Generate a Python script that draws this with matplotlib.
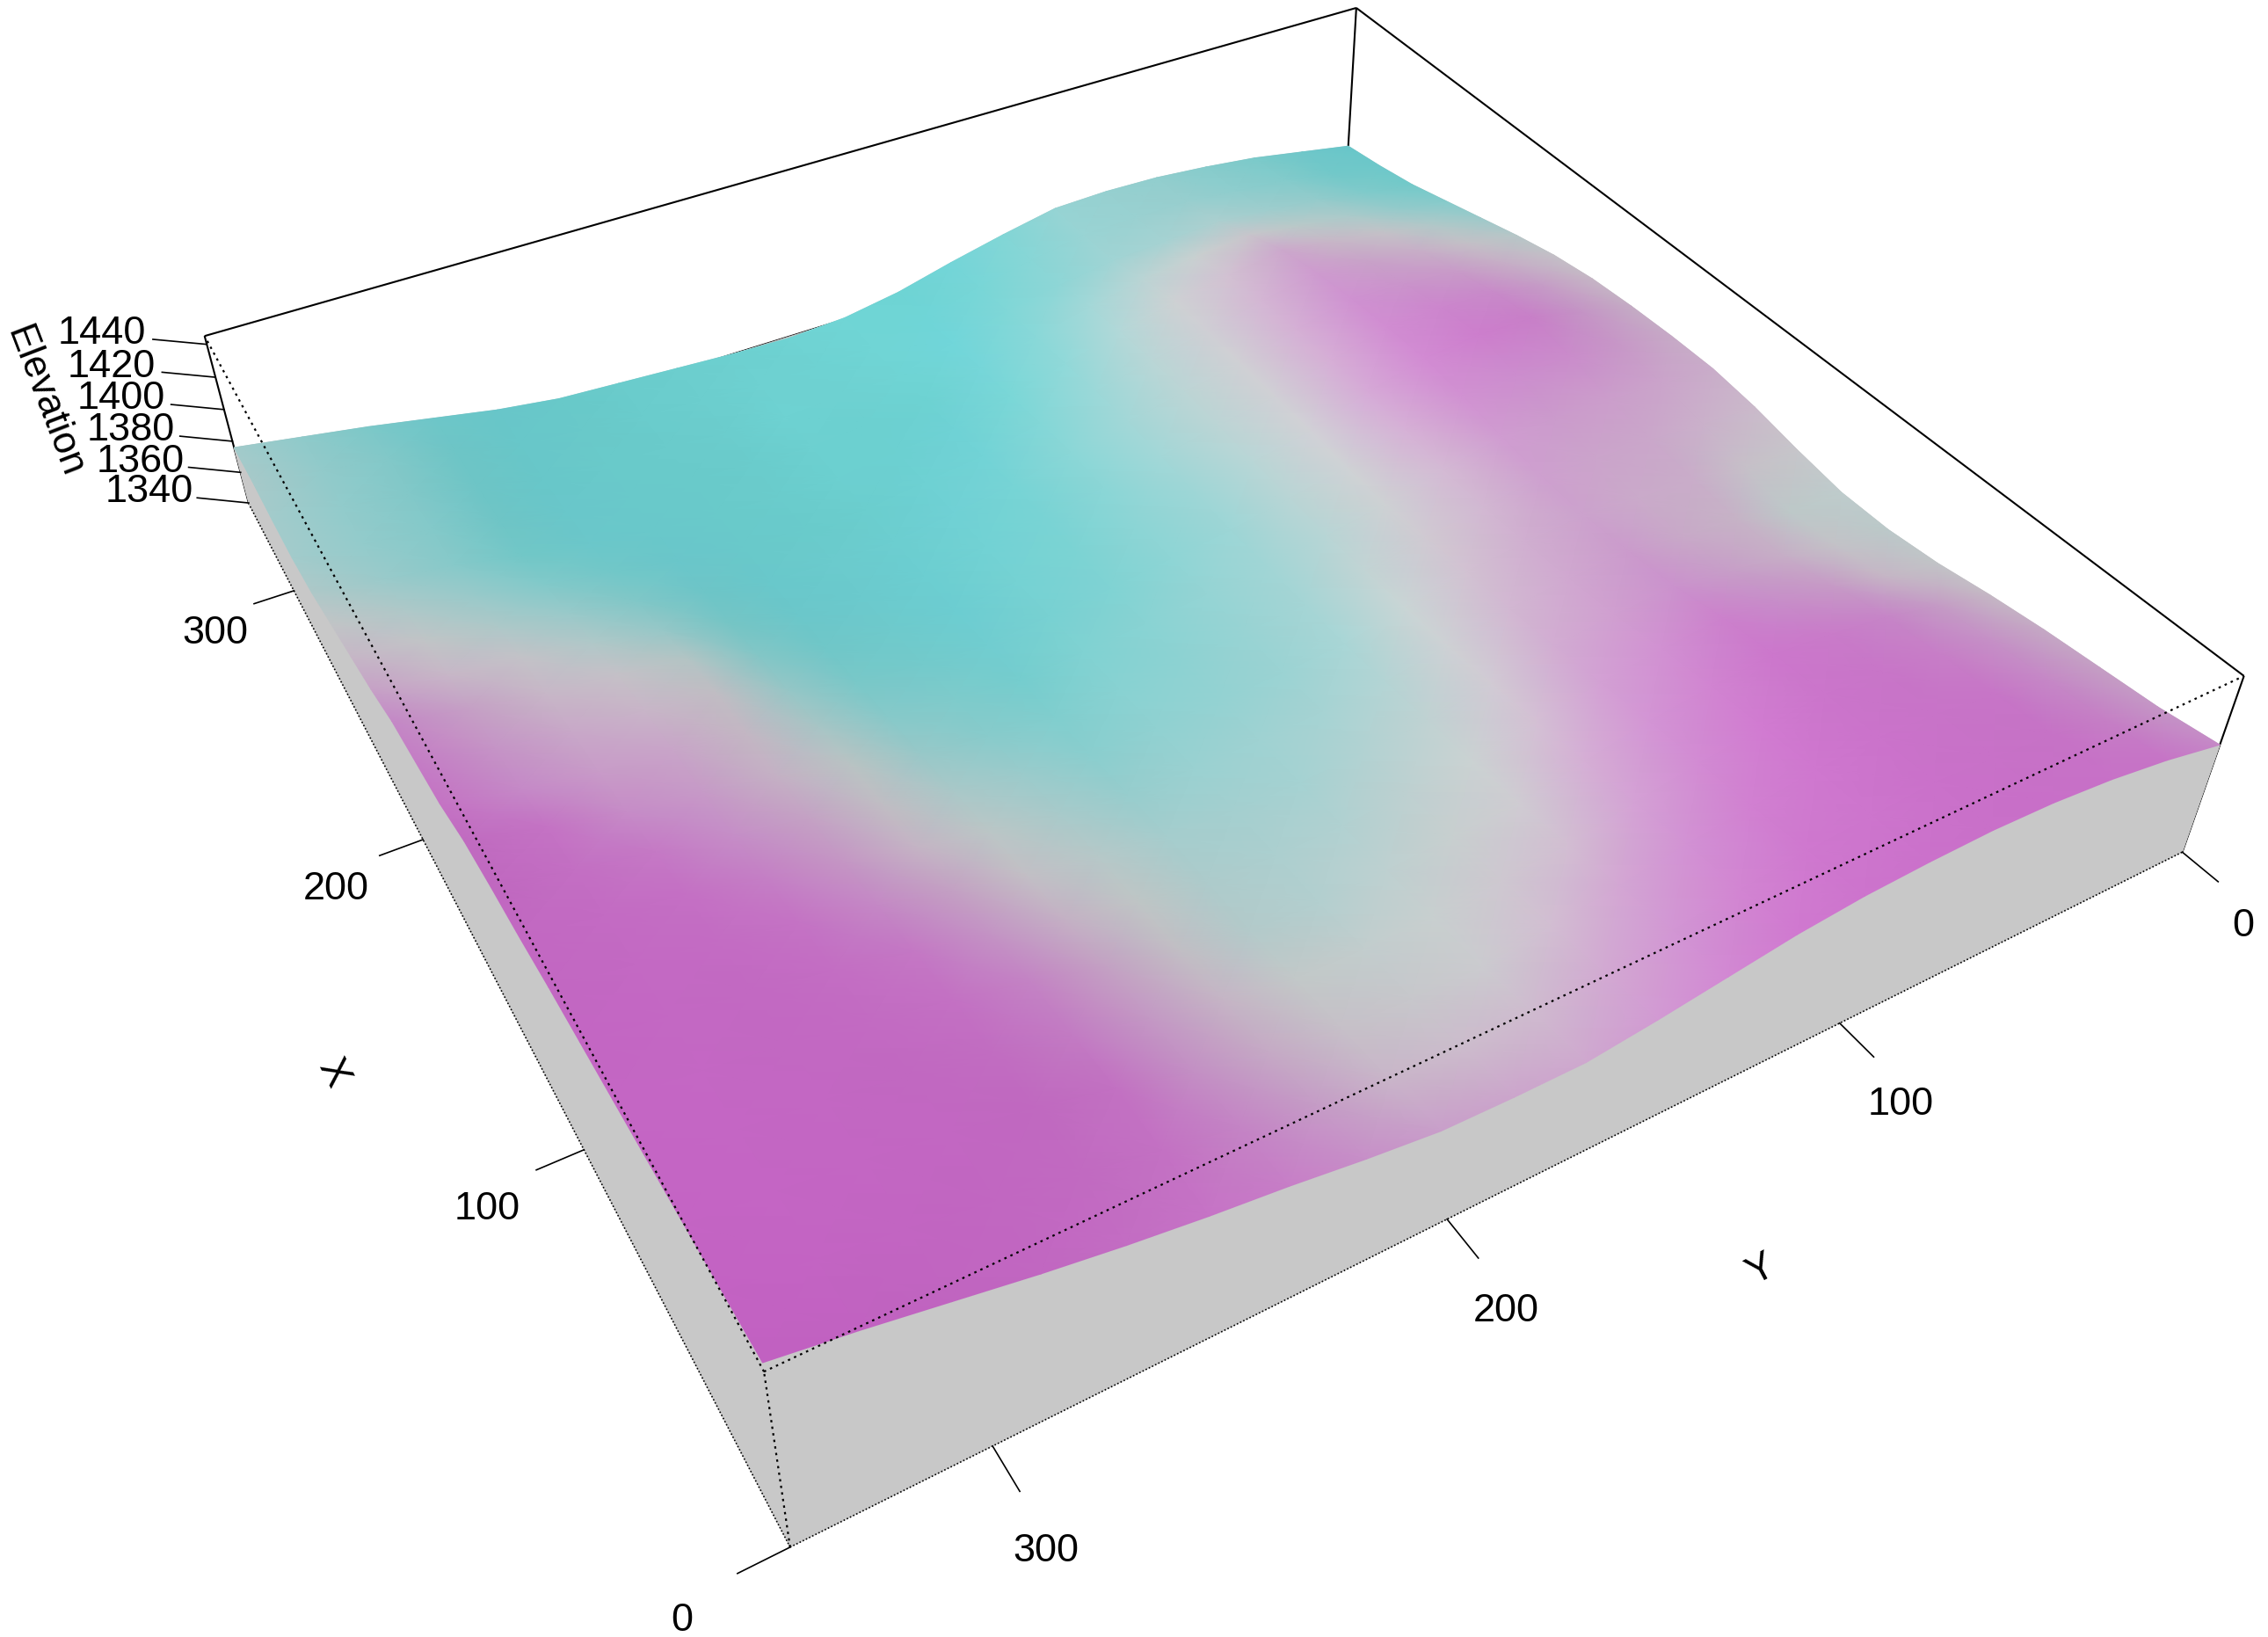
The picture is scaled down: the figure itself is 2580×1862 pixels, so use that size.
import numpy as np
import matplotlib
matplotlib.use('Agg')
import matplotlib.pyplot as plt
from matplotlib.colors import LinearSegmentedColormap, Normalize

plt.rcParams['font.family'] = 'Liberation Sans'

# survey grid, metres
x_grid = [0, 17, 34, 51, 68, 85, 102, 119, 136, 153, 170, 187, 204, 221, 238, 255, 272, 289, 306, 323, 340]
y_grid = [0, 17, 34, 51, 68, 85, 102, 119, 136, 153, 170, 187, 204, 221, 238, 255, 272, 289, 306, 323, 340]

# elevation, one row per y_grid value
elevation = [
    [1405, 1400, 1397, 1394, 1390, 1385, 1382, 1382, 1386, 1391, 1394, 1394, 1393, 1391, 1387, 1381, 1374, 1367, 1360, 1355, 1351],
    [1412, 1408, 1405, 1402, 1398, 1391, 1386, 1383, 1388, 1393, 1397, 1400, 1401, 1398, 1393, 1387, 1380, 1372, 1365, 1360, 1357],
    [1417, 1415, 1412, 1409, 1406, 1399, 1393, 1392, 1394, 1396, 1399, 1405, 1409, 1405, 1399, 1393, 1386, 1378, 1371, 1366, 1363],
    [1420, 1418, 1416, 1413, 1410, 1404, 1398, 1395, 1395, 1397, 1400, 1405, 1410, 1407, 1402, 1397, 1391, 1382, 1374, 1369, 1367],
    [1421, 1420, 1418, 1416, 1413, 1409, 1403, 1400, 1398, 1399, 1401, 1405, 1407, 1406, 1404, 1401, 1396, 1387, 1377, 1372, 1370],
    [1420, 1417, 1415, 1412, 1409, 1405, 1400, 1397, 1395, 1393, 1393, 1396, 1398, 1397, 1396, 1394, 1391, 1384, 1375, 1372, 1371],
    [1418, 1414, 1410, 1407, 1404, 1400, 1396, 1393, 1391, 1388, 1385, 1385, 1386, 1386, 1386, 1386, 1385, 1380, 1373, 1371, 1370],
    [1414, 1409, 1405, 1400, 1396, 1392, 1388, 1385, 1383, 1381, 1379, 1379, 1379, 1380, 1380, 1379, 1377, 1373, 1368, 1365, 1363],
    [1408, 1403, 1398, 1392, 1387, 1384, 1381, 1378, 1375, 1374, 1373, 1372, 1372, 1373, 1373, 1371, 1368, 1365, 1362, 1358, 1355],
    [1402, 1397, 1392, 1388, 1384, 1381, 1378, 1375, 1372, 1371, 1370, 1368, 1367, 1366, 1366, 1363, 1359, 1356, 1352, 1348, 1346],
    [1397, 1392, 1386, 1384, 1381, 1378, 1375, 1373, 1370, 1368, 1366, 1363, 1361, 1360, 1358, 1354, 1350, 1346, 1342, 1340, 1340],
    [1397, 1391, 1386, 1383, 1379, 1377, 1375, 1372, 1369, 1366, 1363, 1360, 1357, 1355, 1353, 1350, 1347, 1344, 1341, 1339, 1338],
    [1398, 1392, 1388, 1384, 1380, 1378, 1376, 1372, 1368, 1364, 1360, 1356, 1352, 1350, 1348, 1345, 1343, 1341, 1339, 1339, 1339],
    [1403, 1398, 1394, 1391, 1387, 1384, 1381, 1377, 1373, 1368, 1364, 1359, 1355, 1351, 1349, 1346, 1344, 1343, 1341, 1341, 1341],
    [1409, 1406, 1402, 1399, 1396, 1392, 1387, 1383, 1378, 1373, 1368, 1363, 1358, 1354, 1350, 1348, 1346, 1345, 1344, 1343, 1343],
    [1414, 1414, 1413, 1409, 1406, 1401, 1396, 1391, 1387, 1383, 1378, 1373, 1368, 1362, 1357, 1353, 1349, 1347, 1346, 1346, 1345],
    [1420, 1422, 1423, 1419, 1415, 1410, 1405, 1400, 1396, 1392, 1390, 1387, 1381, 1373, 1366, 1360, 1354, 1351, 1349, 1349, 1350],
    [1427, 1429, 1430, 1426, 1422, 1418, 1413, 1408, 1403, 1399, 1396, 1392, 1387, 1380, 1373, 1366, 1360, 1358, 1357, 1357, 1357],
    [1435, 1436, 1436, 1433, 1429, 1425, 1421, 1416, 1410, 1404, 1399, 1395, 1391, 1386, 1379, 1373, 1368, 1367, 1366, 1366, 1364],
    [1443, 1442, 1440, 1437, 1434, 1430, 1426, 1422, 1417, 1412, 1405, 1401, 1397, 1391, 1385, 1379, 1373, 1371, 1371, 1371, 1370],
    [1450, 1447, 1444, 1441, 1438, 1435, 1432, 1428, 1425, 1421, 1413, 1409, 1405, 1397, 1391, 1385, 1379, 1376, 1376, 1377, 1376],
]

x_ticks = [0, 100, 200, 300]
y_ticks = [0, 100, 200, 300]
z_ticks = [1340, 1360, 1380, 1400, 1420, 1440]

# colour ramp over elevation (flat ground, before the lighting)
ramp_levels = [1336, 1345, 1352, 1360, 1368, 1376, 1384, 1390, 1396, 1404, 1412, 1425, 1450]
ramp_colors = ['#70d4d4', '#6acccc', '#6cccd0', '#76cece', '#8cd0d0', '#a8d0d0', '#c6cccc',
               '#ccc0cc', '#cca8cc', '#cc90ce', '#cc78cc', '#c86cc8', '#c864c8']

x_max, y_max = 340.0, 340.0
z_bot, z_top = 1339.0, 1445.0
font_size = 32.5

# camera: box corners and where they land in the image
box_pts = [(0, y_max, z_bot), (0, y_max, z_top), (x_max, y_max, z_bot), (x_max, y_max, z_top),
           (0, 0, z_bot), (0, 0, z_top), (x_max, 0, z_top)]
img_pts = [(900, 1760), (868, 1560), (283, 573), (233, 383), (2482, 970), (2553, 768), (1543, 9)]

rows = []
for (px, py, pz), (u, v) in zip(box_pts, img_pts):
    px, py, pz = px / 340, py / 340, (pz - 1400) / 100
    rows.append([px, py, pz, 1, 0, 0, 0, 0, -u * px, -u * py, -u * pz, -u])
    rows.append([0, 0, 0, 0, px, py, pz, 1, -v * px, -v * py, -v * pz, -v])
cam = np.linalg.svd(np.array(rows))[2][-1].reshape(3, 4)


def project(x, y, z):
    x, y, z = np.broadcast_arrays(np.asarray(x, float), np.asarray(y, float), np.asarray(z, float))
    h = np.stack([x / 340, y / 340, (z - 1400) / 100, np.ones_like(x)], axis=-1) @ cam.T
    return h[..., 0] / h[..., 2], h[..., 1] / h[..., 2]


fig = plt.figure(figsize=(25.8, 18.62), dpi=100)
ax = fig.add_axes([0, 0, 1, 1])
ax.set_xlim(0, 2580)
ax.set_ylim(1862, 0)
ax.axis('off')

xs = np.array(x_grid, float)
ys = np.array(y_grid, float)
zz = np.array(elevation, float)
gx, gy = np.meshgrid(xs, ys)


def edge3d(ax, p, q, **kw):
    u, v = project([p[0], q[0]], [p[1], q[1]], [p[2], q[2]])
    ax.plot(u, v, **kw)


solid = dict(color='black', lw=1.5, solid_capstyle='butt', zorder=2)
dots = dict(color='black', lw=1.6, ls=(0, (1.2, 2.2)), zorder=6)
fine = dict(color='black', lw=1.2, ls=(0, (1, 1.4)), zorder=6)


def skirt(ex, ey, ez):
    u1, v1 = project(ex, ey, ez)
    u2, v2 = project(ex, ey, np.full_like(ez, z_bot))
    ax.fill(np.r_[u1, u2[::-1]], np.r_[v1, v2[::-1]], color='#c8c8c8', lw=0.5, zorder=3)


# box behind the surface
edge3d(ax, (x_max, y_max, z_top), (x_max, 0, z_top), **solid)
edge3d(ax, (x_max, 0, z_top), (0, 0, z_top), **solid)
edge3d(ax, (x_max, y_max, z_bot), (x_max, y_max, z_top), **solid)
edge3d(ax, (0, 0, z_bot), (0, 0, z_top), **solid)
edge3d(ax, (x_max, 0, z_bot), (x_max, 0, z_top), **solid)
edge3d(ax, (x_max, 0, z_bot), (x_max, y_max, z_bot), **solid)
edge3d(ax, (x_max, 0, z_bot), (0, 0, z_bot), **solid)

# side walls down to the base
skirt(xs, np.full_like(xs, 0.0), zz[0])
skirt(np.full_like(ys, x_max), ys, zz[:, -1])
skirt(xs, np.full_like(xs, y_max), zz[-1])
skirt(np.full_like(ys, 0.0), ys, zz[:, 0])

cmap = LinearSegmentedColormap.from_list(
    'elev', [((l - ramp_levels[0]) / (ramp_levels[-1] - ramp_levels[0]), c)
             for l, c in zip(ramp_levels, ramp_colors)])
norm = Normalize(ramp_levels[0], ramp_levels[-1])

# light comes from the y=0 side: slopes rising with y are darker
slope = np.gradient(zz, ys, axis=0)
shade = 1 - 0.05 * np.clip(slope / 0.6, -1, 1)
rgba = cmap(norm(zz))
rgba[..., :3] = np.clip(rgba[..., :3] * shade[..., None], 0, 1)

su, sv = project(gx, gy, zz)
ax.pcolormesh(su, sv, rgba, shading='gouraud', zorder=4)

# front of the box goes over the surface
edge3d(ax, (0, y_max, z_top), (x_max, y_max, z_top), **dots)
edge3d(ax, (0, y_max, z_top), (0, 0, z_top), **dots)
edge3d(ax, (0, y_max, z_bot), (0, y_max, z_top), **dots)
edge3d(ax, (0, y_max, z_bot), (x_max, y_max, z_bot), **fine)
edge3d(ax, (0, y_max, z_bot), (0, 0, z_bot), **fine)

tick = dict(color='black', lw=1.2, zorder=5)
for t in x_ticks:
    edge3d(ax, (t, y_max, z_bot), (t, y_max + 10, z_bot), **tick)
    u, v = project(t, y_max + 23, z_bot)
    ax.text(u + 16, v + 14, str(t), fontsize=font_size, ha='center', va='center')
for t in y_ticks:
    edge3d(ax, (0, t, z_bot), (-10.5, t, z_bot), **tick)
    u, v = project(-25, t, z_bot)
    ax.text(u - 29 + 0.05 * t, v + 3 - 0.03 * t, str(t), fontsize=font_size, ha='center', va='center')
for t in z_ticks:
    edge3d(ax, (x_max, y_max, t), (x_max + 8.8, y_max + 11.0, t), **tick)
    u, v = project(x_max + 19, y_max + 24, t)
    ax.text(u + 14, v, str(t), fontsize=font_size, ha='center', va='center')

u, v = project(144, y_max + 37.6, z_bot)
ax.text(u, v, 'X', fontsize=font_size, ha='center', va='center', rotation=-63)
u, v = project(-40, 150, z_bot)
ax.text(u - 22, v + 11, 'Y', fontsize=font_size, ha='center', va='center', rotation=28)
u, v = project(x_max + 27, y_max + 46, 1392)
ax.text(u + 31, v - 22, 'Elevation', fontsize=31.5, ha='center', va='center', rotation=-69)

fig.savefig('out.png', dpi=100)
